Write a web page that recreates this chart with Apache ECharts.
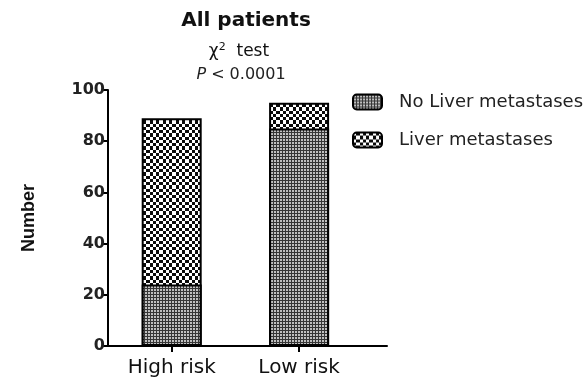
<!DOCTYPE html>
<html><head><meta charset="utf-8">
<script src="https://cdn.jsdelivr.net/npm/echarts@6/dist/echarts.min.js"></script>
<style>html,body{margin:0;padding:0;background:#fff}#c{width:585px;height:383px}</style>
</head><body><div id="c"></div>
<script>
const categories = ['High risk', 'Low risk'];
const noLiver = [24, 85];
const liver = [65, 10];
const seriesNames = ['No Liver metastases', 'Liver metastases'];
const yTicks = [0, 20, 40, 60, 80, 100];

function finePattern() {
  const c = document.createElement('canvas'); c.width = 3; c.height = 3;
  const g = c.getContext('2d');
  g.fillStyle = '#c0c0c0'; g.fillRect(0,0,3,3);
  g.fillStyle = '#363636';
  g.fillRect(0,0,3,1); g.fillRect(0,0,1,3);
  return c;
}
function coarsePattern() {
  const sizes = [3, 4, 3, 3];
  const c = document.createElement('canvas'); c.width = 13; c.height = 13;
  const g = c.getContext('2d');
  g.fillStyle = '#0a0a0a'; g.fillRect(0,0,13,13);
  g.fillStyle = '#ffffff';
  let y = 0;
  for (let r = 0; r < 4; r++) {
    let x = 0;
    for (let k = 0; k < 4; k++) {
      if ((r + k) % 2 === 0) g.fillRect(x, y, sizes[k], sizes[r]);
      x += sizes[k];
    }
    y += sizes[r];
  }
  return c;
}
const fineImg = finePattern();
const coarseImg = coarsePattern();
const totals = noLiver.map((v, i) => v + liver[i]);

const F = 'DejaVu Sans';
const chart = echarts.init(document.getElementById('c'), null, {renderer: 'canvas'});
const txt = '#111';
const option = {
  backgroundColor: '#fff',
  animation: false,
  title: [
    {text: 'All patients', left: 241, top: 6, textAlign: 'center',
     textStyle: {fontFamily: F, fontWeight: 'bold', fontSize: 20, color: txt}},
    {text: '{a|χ}{s|2}{a|  test}', left: 234, top: 37, textAlign: 'center',
     textStyle: {rich: {a: {fontFamily: F, fontWeight: 'normal', fontSize: 17, color: txt},
                        s: {fontFamily: F, fontWeight: 'normal', fontSize: 11, color: txt, verticalAlign: 'top', padding: [0,0,8,0]}}}},
    {text: '{i|P}{a| < 0.0001}', left: 236, top: 62, textAlign: 'center',
     textStyle: {rich: {a: {fontFamily: F, fontWeight: 'normal', fontSize: 16, color: '#222'},
                        i: {fontFamily: F, fontWeight: 'normal', fontStyle: 'italic', fontSize: 16, color: '#222'}}}}
  ],
  legend: {
    orient: 'vertical', left: 347, top: 88, itemWidth: 29, itemHeight: 15, itemGap: 20,
    icon: 'roundRect',
    data: seriesNames,
    textStyle: {fontFamily: F, fontSize: 18, color: '#222', padding: [0,0,0,12]}
  },
  grid: {left: 108, right: 198, top: 90, bottom: 37, containLabel: false},
  xAxis: {
    type: 'value', min: -0.5, max: 1.69,
    splitLine: {show: false},
    axisLine: {show: true, onZero: false, lineStyle: {color: '#000', width: 2}},
    axisTick: {show: true, customValues: [0, 1], length: 6, lineStyle: {color: '#000', width: 2}},
    axisLabel: {customValues: [0, 1], formatter: v => categories[Math.round(v)] || '', margin: 12,
      fontFamily: F, fontSize: 20, color: '#111'}
  },
  yAxis: {
    type: 'value', min: 0, max: 100, interval: 20,
    name: 'Number', nameLocation: 'middle', nameGap: 70, nameRotate: 90,
    nameTextStyle: {fontFamily: 'Liberation Sans', fontWeight: 'bold', fontSize: 18, color: txt},
    splitLine: {show: false},
    axisLine: {show: true, onZero: false, lineStyle: {color: '#000', width: 2}},
    axisTick: {show: true, length: 6, lineStyle: {color: '#000', width: 2}},
    axisLabel: {fontFamily: F, fontWeight: 'bold', fontSize: 16, color: '#222', margin: 3,
      formatter: v => yTicks.includes(v) ? String(v) : ''}
  },
  series: [
    {name: seriesNames[1], type: 'bar', barWidth: 60, barGap: '-100%', z: 2,
     data: totals.map((v, i) => [i, v]),
     itemStyle: {color: {image: coarseImg, repeat: 'repeat'}, borderColor: '#000', borderWidth: 2}},
    {name: seriesNames[0], type: 'bar', barWidth: 60, barGap: '-100%', z: 3,
     data: noLiver.map((v, i) => [i, v]),
     itemStyle: {color: {image: fineImg, repeat: 'repeat'}, borderColor: '#000', borderWidth: 2}}
  ]
};
chart.setOption(option);
</script></body></html>
